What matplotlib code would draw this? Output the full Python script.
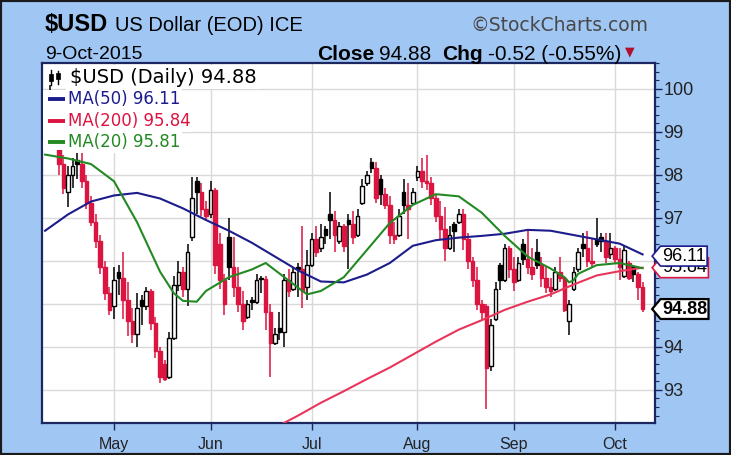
import numpy as np
import pandas as pd
import matplotlib
matplotlib.use("Agg")
import matplotlib.pyplot as plt
from matplotlib.path import Path
from matplotlib.patches import Rectangle
from matplotlib.ticker import MultipleLocator
from matplotlib.transforms import blended_transform_factory

# ---------------- data ----------------
dates = pd.bdate_range("2015-04-10", "2015-10-09")

#        Apr
opens = [98.80, 99.30, 99.75, 98.90, 98.25, 97.60, 98.00, 98.35, 98.25, 97.85, 97.35, 96.90, 96.45, 95.85, 95.25,
         # May
         94.95, 95.75, 95.60, 95.10, 94.60, 94.30, 95.10, 94.95, 95.30, 94.55, 93.90, 93.60, 93.30, 94.20, 95.45,
         95.75, 95.35, 96.55, 97.85, 97.60, 97.20,
         # Jun
         97.10, 97.65, 96.40, 95.55, 96.55, 95.85, 95.40, 95.00, 94.70, 95.10, 95.05, 95.60, 95.58, 94.80, 94.10,
         94.45, 94.35, 95.55, 95.35, 95.85, 95.80, 95.40,
         # Jul
         95.90, 96.50, 96.30, 96.75, 97.10, 96.95, 96.45, 96.80, 96.95, 96.85, 96.60, 97.35, 97.80, 98.30, 98.15,
         97.90, 97.55, 97.30, 96.60, 96.60, 97.60, 97.30, 97.35,
         # Aug
         97.95, 98.10, 97.85, 97.80, 97.45, 97.05, 96.75, 96.30, 96.85, 96.90, 97.10, 96.50, 96.00, 95.55, 95.00,
         94.95, 93.55, 94.65, 95.90, 95.55, 96.30,
         # Sep
         95.80, 95.55, 96.40, 96.05, 95.85, 96.20, 95.90, 95.60, 95.40, 95.35, 95.75, 95.60, 94.60, 95.35, 95.80,
         96.40, 96.30, 96.00, 96.50, 96.55, 96.45, 96.15,
         # Oct
         96.30, 96.05, 95.65, 95.95, 95.85, 95.70, 95.40]

highs = [99.50, 100.10, 99.85, 99.00, 98.45, 98.20, 98.40, 98.50, 98.50, 98.00, 97.50, 97.10, 96.60, 96.00, 95.40,
         95.85, 95.90, 96.20, 95.50, 94.90, 95.25, 95.20, 95.40, 95.35, 94.70, 94.00, 93.70, 94.35, 95.65, 96.00,
         95.85, 96.40, 97.95, 97.95, 97.80, 97.40,
         97.85, 97.70, 96.65, 95.70, 97.00, 96.55, 95.85, 95.30, 95.10, 95.15, 95.70, 95.65, 95.65, 95.00, 94.45,
         94.80, 95.70, 95.80, 95.85, 95.95, 96.80, 96.25,
         96.65, 96.80, 96.85, 96.80, 97.60, 97.15, 96.90, 96.85, 97.10, 97.15, 97.20, 97.90, 98.10, 98.40, 98.30,
         98.00, 97.70, 97.50, 96.90, 97.20, 97.90, 97.80, 97.70,
         98.20, 98.40, 98.47, 97.95, 97.55, 97.40, 97.26, 96.80, 96.90, 97.20, 97.20, 96.65, 96.10, 95.86, 95.10,
         95.00, 94.65, 95.50, 95.95, 96.40, 96.35,
         96.10, 96.10, 96.50, 96.70, 96.30, 96.50, 96.10, 95.86, 95.60, 95.86, 96.10, 95.65, 95.10, 95.86, 96.30,
         96.65, 96.70, 96.50, 97.00, 96.65, 96.65, 96.65,
         96.35, 96.30, 96.35, 96.00, 95.90, 95.75, 95.50]

lows = [98.60, 99.10, 98.70, 98.00, 97.55, 97.25, 97.70, 97.90, 97.70, 97.20, 96.80, 96.30, 95.70, 95.10, 94.75,
        94.65, 95.20, 94.65, 94.25, 94.10, 94.00, 94.50, 94.85, 94.40, 93.75, 93.15, 93.20, 93.25, 94.15, 95.30,
        95.15, 94.95, 96.45, 97.10, 97.05, 96.95,
        97.00, 95.70, 95.35, 94.75, 95.55, 95.15, 94.80, 94.40, 94.65, 94.85, 95.00, 95.25, 94.40, 93.30, 94.05,
        94.15, 94.00, 95.15, 95.30, 95.15, 94.90, 95.10,
        95.85, 96.10, 96.20, 96.40, 96.50, 96.20, 96.40, 96.20, 95.80, 96.40, 96.55, 97.30, 97.75, 98.05, 97.35,
        97.30, 97.20, 96.40, 96.40, 96.55, 97.10, 96.50, 97.30,
        97.85, 97.70, 97.65, 97.30, 96.90, 96.50, 96.00, 96.25, 96.20, 96.85, 96.25, 95.80, 95.40, 94.86, 94.60,
        92.55, 93.45, 94.60, 95.33, 95.50, 95.60,
        95.30, 95.50, 95.90, 95.70, 95.55, 95.80, 95.40, 95.25, 95.15, 95.30, 95.50, 94.80, 94.28, 95.30, 95.75,
        96.10, 95.86, 95.86, 96.33, 96.20, 95.95, 96.05,
        95.95, 95.55, 95.60, 95.55, 95.50, 95.10, 94.80]

closes = [99.30, 99.75, 98.90, 98.25, 97.70, 98.00, 98.20, 98.25, 97.85, 97.35, 96.90, 96.45, 95.85, 95.25, 94.85,
          95.55, 95.60, 95.10, 94.60, 94.30, 94.90, 94.95, 95.30, 94.55, 93.90, 93.30, 93.25, 94.20, 95.45, 95.75,
          95.35, 96.20, 97.45, 97.60, 97.20, 97.05,
          97.65, 95.90, 95.55, 95.00, 95.85, 95.40, 95.00, 94.60, 95.00, 95.05, 95.55, 95.58, 94.80, 94.10, 94.30,
          94.35, 95.55, 95.30, 95.75, 95.80, 95.30, 95.90,
          96.50, 96.20, 96.55, 96.60, 96.95, 96.60, 96.80, 96.35, 96.85, 96.55, 97.05, 97.75, 98.00, 98.15, 97.45,
          97.55, 97.30, 96.60, 96.50, 97.05, 97.30, 97.20, 97.60,
          98.10, 97.85, 97.80, 97.45, 97.05, 96.75, 96.30, 96.60, 96.70, 97.10, 96.50, 96.00, 95.55, 95.00, 94.80,
          93.50, 94.50, 95.35, 95.55, 96.30, 95.80,
          95.50, 95.95, 96.05, 95.85, 95.70, 95.90, 95.60, 95.40, 95.30, 95.75, 95.60, 94.85, 95.00, 95.75, 96.20,
          96.30, 96.00, 95.95, 96.40, 96.45, 96.10, 96.30,
          96.05, 95.85, 96.25, 95.60, 95.70, 95.40, 94.88]

# moving averages, read at the dates listed
ma50_dates = ["2015-04-10", "2015-04-17", "2015-04-24", "2015-05-01", "2015-05-08", "2015-05-15", "2015-05-22",
              "2015-05-29", "2015-06-05", "2015-06-12", "2015-06-19", "2015-06-26", "2015-07-03", "2015-07-10",
              "2015-07-17", "2015-07-24", "2015-07-31", "2015-08-07", "2015-08-14", "2015-08-21", "2015-08-28",
              "2015-09-04", "2015-09-11", "2015-09-18", "2015-09-25", "2015-10-02", "2015-10-09"]
ma50 = [96.70, 97.08, 97.38, 97.52, 97.58, 97.45, 97.22, 96.95, 96.70, 96.42, 96.10, 95.78, 95.52, 95.50,
        95.68, 95.95, 96.35, 96.48, 96.54, 96.58, 96.63, 96.72, 96.70, 96.60, 96.50, 96.40, 96.15]

ma20_dates = ["2015-04-10", "2015-04-17", "2015-04-24", "2015-05-01", "2015-05-08", "2015-05-15", "2015-05-20",
              "2015-05-22", "2015-05-27", "2015-05-29", "2015-06-05", "2015-06-12", "2015-06-17", "2015-06-26",
              "2015-06-30", "2015-07-03", "2015-07-10", "2015-07-17", "2015-07-24", "2015-07-31", "2015-08-07",
              "2015-08-14", "2015-08-21", "2015-08-28", "2015-09-04", "2015-09-11", "2015-09-16", "2015-09-17",
              "2015-09-18", "2015-09-21", "2015-09-25", "2015-10-02", "2015-10-09"]
ma20 = [98.47, 98.38, 98.25, 97.85, 96.90, 95.75, 95.25, 95.07, 95.05, 95.30, 95.62, 95.80, 95.95, 95.38,
        95.22, 95.30, 95.62, 96.25, 96.88, 97.30, 97.55, 97.50, 97.12, 96.58, 96.10, 95.82, 95.62, 95.50,
        95.55, 95.70, 95.90, 95.95, 95.83]

ma200_dates = ["2015-06-19", "2015-06-26", "2015-07-03", "2015-07-10", "2015-07-17", "2015-07-24", "2015-07-31",
               "2015-08-07", "2015-08-14", "2015-08-21", "2015-08-28", "2015-09-04", "2015-09-11", "2015-09-18",
               "2015-09-25", "2015-10-02", "2015-10-09"]
ma200 = [92.12, 92.40, 92.70, 92.97, 93.25, 93.52, 93.82, 94.12, 94.40, 94.62, 94.86, 95.05, 95.22, 95.45,
         95.66, 95.76, 95.84]

month_labels = ["May", "Jun", "Jul", "Aug", "Sep", "Oct"]
y_ticks = [93, 94, 95, 96, 97, 98, 99, 100]
y_tick_labels = ["93", "94", "", "", "97", "98", "99", "100"]   # 95 and 96 sit under the price tags

# ---------------- style ----------------
W, H = 731, 455
BG = "#a0c6f4"
RED = "#dc1440"
NAVY = "#1c1c8c"
MA_RED = "#e8365a"
GREEN = "#238a23"
FRAME = "#1c2660"
AX_L, AX_R, AX_T, AX_B = 42, 655, 63, 423

fig = plt.figure(figsize=(W / 100, H / 100), dpi=100, facecolor=BG)
ax = fig.add_axes([AX_L / W, 1 - AX_B / H, (AX_R - AX_L) / W, (AX_B - AX_T) / H])
ax.set_facecolor("white")


def fig_xy(px, py):
    return px / W, 1 - py / H


def ax_xy(px, py):
    return (px - AX_L) / (AX_R - AX_L), (AX_B - py) / (AX_B - AX_T)


o = np.array(opens)
h = np.array(highs)
lo = np.array(lows)
c = np.array(closes)
x = np.arange(len(dates))
prev = np.r_[o[0], c[:-1]]
col = np.where(c >= prev, "black", RED)
face = np.where(c > o, "white", col)

ax.vlines(x, lo, h, colors=col, lw=1.1, zorder=3)
ax.bar(x, np.maximum(np.abs(c - o), 0.03), bottom=np.minimum(o, c), width=0.78,
       color=face, edgecolor=col, linewidth=1.0, zorder=4)

for d, v, color in [(ma50_dates, ma50, NAVY), (ma200_dates, ma200, MA_RED), (ma20_dates, ma20, GREEN)]:
    ax.plot(dates.get_indexer(pd.to_datetime(d)), v, color=color, lw=1.5, zorder=5)

# axes / grid
month_pos = [dates.get_indexer(dates[dates.month == m])[0] for m in range(5, 11)]
ax.set_xlim(-0.67, 132.7)
ax.set_ylim(92.23, 100.6)
ax.set_xticks(month_pos)
ax.set_xticklabels(month_labels, fontsize=11.5, family="Liberation Sans", color="#222222")
ax.set_yticks(y_ticks)
ax.set_yticklabels(y_tick_labels, fontsize=13, family="Liberation Sans", color="#222222")
ax.yaxis.set_minor_locator(MultipleLocator(0.2))
ax.yaxis.tick_right()
ax.tick_params(axis="y", which="major", length=5, width=1, color=FRAME, pad=1)
ax.tick_params(axis="y", which="minor", length=3, width=0.8, color=FRAME)
ax.tick_params(axis="x", length=5, width=1, color=FRAME, pad=5)
ax.grid(True, which="major", color="#d9d9d9", lw=1)
ax.set_axisbelow(True)
for s in ax.spines.values():
    s.set_color(FRAME)
    s.set_linewidth(1.6)

# legend (white backed lines in the top-left corner)
leg_box = dict(fc="white", ec="none", pad=1.5)
ax.text(*ax_xy(70, 77), "$USD (Daily) 94.88", transform=ax.transAxes, fontsize=14,
        family="DejaVu Sans", va="center", ha="left", bbox=leg_box, zorder=10)
ax.add_patch(Rectangle(ax_xy(AX_L + 1, 150), (68 - AX_L) / (AX_R - AX_L), 60 / (AX_B - AX_T),
                       transform=ax.transAxes, fc="white", ec="none", zorder=9))
for py, txt, color in [(99, "MA(50) 96.11", NAVY), (121, "MA(200) 95.84", RED), (142, "MA(20) 95.81", GREEN)]:
    ax.text(*ax_xy(68, py), txt, transform=ax.transAxes, fontsize=12, family="DejaVu Sans",
            color=color, va="center", ha="left", bbox=leg_box, zorder=10)
    ax.plot([ax_xy(48, py)[0], ax_xy(65, py)[0]], [ax_xy(48, py)[1]] * 2, transform=ax.transAxes,
            color=color, lw=2.8, solid_capstyle="butt", zorder=11, clip_on=False)
# little candle icon
for cx, top, bot, b1, b2 in [(51, 70, 85, 74, 81), (58, 71, 84, 73, 79)]:
    ax.plot([ax_xy(cx, top)[0]] * 2, [ax_xy(cx, top)[1], ax_xy(cx, bot)[1]], transform=ax.transAxes,
            color="black", lw=1, zorder=11)
    ax.add_patch(Rectangle(ax_xy(cx - 2, b2), 4 / (AX_R - AX_L), (b2 - b1) / (AX_B - AX_T),
                           transform=ax.transAxes, fc="black", ec="black", lw=0.5, zorder=11))


# price tags on the right axis
def tag_shape(x0, y0, width, height, mutation_size):
    pad = 0.08 * mutation_size
    x0, y0 = x0 - pad, y0 - pad
    x1, y1 = x0 + width + 2 * pad, y0 + height + 2 * pad
    hh = y1 - y0
    return Path([(x0, y0), (x1, y0), (x1, y1), (x0, y1), (x0 - 0.42 * hh, y0 + hh / 2), (x0, y0)], closed=True)


tr = blended_transform_factory(ax.transAxes, ax.transData)
for val, ec, weight, lw in [(95.84, RED, "normal", 1.2), (96.11, NAVY, "normal", 1.2),
                            (94.88, "black", "bold", 1.6)]:
    ax.annotate(f"{val:.2f}", xy=(1, val), xycoords=tr, xytext=(5, 0), textcoords="offset points",
                ha="left", va="center", fontsize=13, family="Liberation Sans", weight=weight, color="black",
                bbox=dict(boxstyle=tag_shape, fc="white", ec=ec, lw=lw), annotation_clip=False, zorder=12)

# header
fig.text(*fig_xy(45, 31), "$USD", fontsize=17, weight="bold", family="Liberation Sans", va="baseline")
fig.text(*fig_xy(115, 31), "US Dollar (EOD) ICE", fontsize=14.5, family="Liberation Sans", va="baseline")
fig.text(*fig_xy(648, 31), "\u00a9StockCharts.com", fontsize=13.5, family="DejaVu Sans", color="#484848",
         va="baseline", ha="right")
fig.text(*fig_xy(45, 59), "9-Oct-2015", fontsize=14, family="Liberation Sans", va="baseline")

# "Close 94.88  Chg -0.52 (-0.55%) ▼" as a chain of pieces
pieces = [("Close", "bold", "black", 0, 0), ("94.88", "normal", "black", 5, 0), ("Chg", "bold", "black", 11, 0),
          ("-0.52 (-0.55%)", "normal", "black", 5, 0), ("\u25bc", "normal", "#b0102c", 3, 6)]
prev_txt = fig.text(*fig_xy(317, 64), pieces[0][0], fontsize=15, weight="bold", family="Liberation Sans",
                    va="bottom")
for txt, weight, color, gap, lift in pieces[1:]:
    fam = "DejaVu Sans" if txt == "\u25bc" else "Liberation Sans"
    size = 9 if txt == "\u25bc" else 15
    prev_txt = ax.annotate(txt, xy=(1, 0), xycoords=prev_txt, xytext=(gap, lift), textcoords="offset pixels",
                           va="bottom", ha="left", fontsize=size, weight=weight, family=fam, color=color,
                           annotation_clip=False)

fig.patches.append(Rectangle((0, 0), 1, 1, transform=fig.transFigure, fill=False, ec="#1a1a1a", lw=3))

fig.savefig("out.png", dpi=100, facecolor=BG)
